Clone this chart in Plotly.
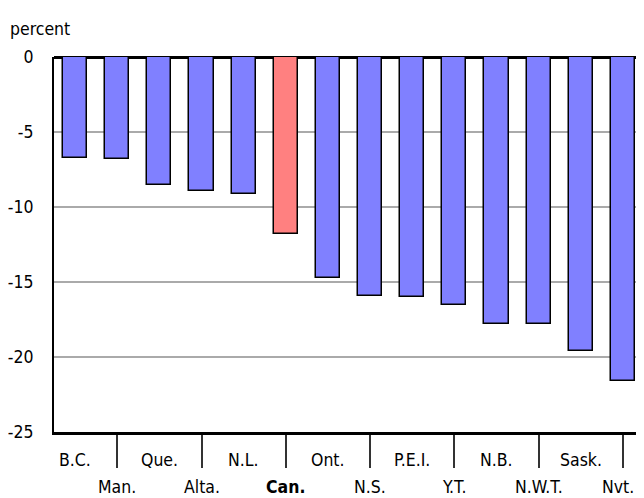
import plotly.graph_objects as go

categories = ["B.C.", "Man.", "Que.", "Alta.", "N.L.", "Can.", "Ont.", "N.S.",
              "P.E.I.", "Y.T.", "N.B.", "N.W.T.", "Sask.", "Nvt."]
values = [-6.7, -6.8, -8.5, -8.9, -9.1, -11.8, -14.7, -15.9, -16.0, -16.5,
          -17.8, -17.8, -19.6, -21.6]
y_ticks = [0, -5, -10, -15, -20, -25]

FONT = "DejaVu Sans Condensed, Liberation Sans Narrow, sans-serif"
FS = 17.5
blue = "#8080FF"
red = "#FF8080"
colors = [red if c == "Can." else blue for c in categories]
xs = list(range(len(categories)))

fig = go.Figure()
fig.add_trace(go.Bar(
    x=xs, y=values, width=0.57,
    marker=dict(color=colors, line=dict(color="black", width=1.5)),
    hoverinfo="skip",
))

annotations = []
for i, c in enumerate(categories):
    lower = (i % 2 == 1)
    txt = f"<b>{c}</b>" if c == "Can." else c
    last = (i == len(categories) - 1)
    annotations.append(dict(
        x=i, xref="x", y=0, yref="paper", yanchor="top",
        yshift=-43 if lower else -16, xshift=-5 if last else 0,
        showarrow=False,
        text=txt, font=dict(family=FONT, size=FS, color="black"),
        xanchor="center",
    ))
annotations.append(dict(
    x=0, xref="paper", xshift=-46, y=1, yref="paper", yshift=16,
    xanchor="left", yanchor="bottom", showarrow=False,
    text="percent", font=dict(family=FONT, size=FS, color="black"),
))

fig.update_layout(
    width=636, height=490,
    margin=dict(l=44, r=0, t=49, b=66),
    plot_bgcolor="white", paper_bgcolor="white",
    showlegend=False,
    bargap=0,
    font=dict(family=FONT, size=FS, color="black"),
    xaxis=dict(
        range=[-0.5, 13.5], showgrid=False, zeroline=False,
        showline=True, linecolor="black", linewidth=2.5,
        tickvals=[i for i in xs if i % 2 == 1], ticktext=["" for i in xs if i % 2 == 1],
        ticks="outside", ticklen=33, tickwidth=1.5, tickcolor="#333333",
        fixedrange=True,
    ),
    yaxis=dict(
        range=[-25, 0], tickvals=y_ticks, ticktext=[str(v) for v in y_ticks],
        showgrid=True, gridcolor="#AAAAAA", gridwidth=1.5,
        zeroline=True, zerolinecolor="black", zerolinewidth=3,
        showline=True, linecolor="black", linewidth=2,
        ticks="", ticklen=0, ticklabelstandoff=15,
        tickfont=dict(family=FONT, size=FS),
        fixedrange=True,
    ),
    annotations=annotations,
)

fig.write_html("out.html")
